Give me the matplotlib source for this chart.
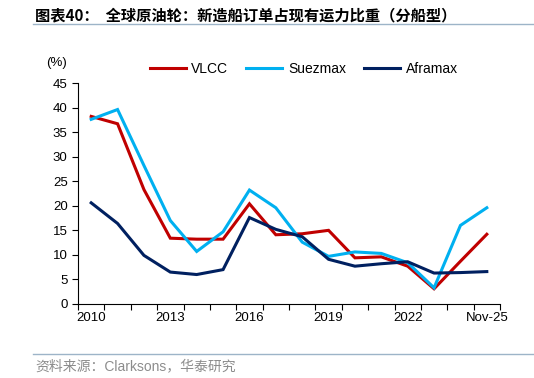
import matplotlib
matplotlib.use("Agg")
import matplotlib.pyplot as plt
from matplotlib.lines import Line2D

plt.rcParams['font.family'] = ['Liberation Sans', 'Noto Sans CJK SC', 'DejaVu Sans']

years = list(range(2010, 2026))
tick_labels = ['2010', '2013', '2016', '2019', '2022', 'Nov-25']
tick_years = [2010, 2013, 2016, 2019, 2022, 2025]

vlcc = [38.2, 36.7, 23.3, 13.4, 13.2, 13.2, 20.4, 14.1, 14.3, 15.0, 9.4, 9.6, 7.7, 3.1, 8.7, 14.2]
suezmax = [37.6, 39.6, 28.2, 17.0, 10.7, 14.7, 23.2, 19.6, 12.6, 9.7, 10.6, 10.3, 8.4, 3.3, 16.0, 19.6]
aframax = [20.6, 16.4, 9.9, 6.5, 6.0, 7.0, 17.6, 15.2, 13.7, 9.1, 7.7, 8.2, 8.6, 6.3, 6.4, 6.6]

series = [("VLCC", vlcc, "#C00000"), ("Suezmax", suezmax, "#00B0F0"), ("Aframax", aframax, "#002060")]

fig = plt.figure(figsize=(5.34, 3.78), dpi=100)
ax = fig.add_axes([78 / 534, 1 - 304 / 378, (500 - 78) / 534, (304 - 83) / 378])

for name, vals, color in series:
    ax.plot(years, vals, color=color, lw=2.2, label=name, solid_joinstyle='miter')

ax.set_xlim(2009.5, 2025.5)
ax.set_ylim(0, 45)
ax.set_yticks(range(0, 46, 5))
ax.set_xticks(tick_years)
ax.set_xticklabels(tick_labels)
ax.set_xticks([y - 0.5 for y in years] + [2025.5], minor=True)
ax.tick_params(axis='x', which='major', length=0, labelsize=9.5, pad=6)
ax.tick_params(axis='x', which='minor', length=4, direction='out', width=0.8)
ax.tick_params(axis='y', length=4, direction='out', width=0.8, labelsize=9.5)
for s in ['top', 'right']:
    ax.spines[s].set_visible(False)
for s in ['left', 'bottom']:
    ax.spines[s].set_linewidth(0.8)
    ax.spines[s].set_color('black')

ax.legend(loc='lower center', bbox_to_anchor=(0.535, 1.0), ncol=3, frameon=False,
          fontsize=10, handlelength=2.6, columnspacing=1.3, handletextpad=0.4, borderaxespad=0.1)

fig.text(46 / 534, 1 - 63 / 378, "(%)", fontsize=9.5, va='center', ha='left')

fig.text(35 / 534, 1 - 15 / 378, "图表40：  全球原油轮：新造船订单占现有运力比重（分船型）",
         fontsize=11, fontweight='bold', va='center', ha='left',
         family=['Noto Sans CJK SC', 'DejaVu Sans'])
fig.add_artist(Line2D([33 / 534, 1], [1 - 24 / 378, 1 - 24 / 378], color='#9DB4C8', lw=1.0))
fig.add_artist(Line2D([33 / 534, 1], [1 - 354 / 378, 1 - 354 / 378], color='#9DB4C8', lw=1.0))
fig.text(35 / 534, 1 - 366 / 378, "资料来源：Clarksons，华泰研究", fontsize=10, color='#8C8C8C',
         va='center', ha='left', family=['Liberation Sans', 'Noto Sans CJK SC', 'DejaVu Sans'])

fig.savefig("out.png", dpi=100)
